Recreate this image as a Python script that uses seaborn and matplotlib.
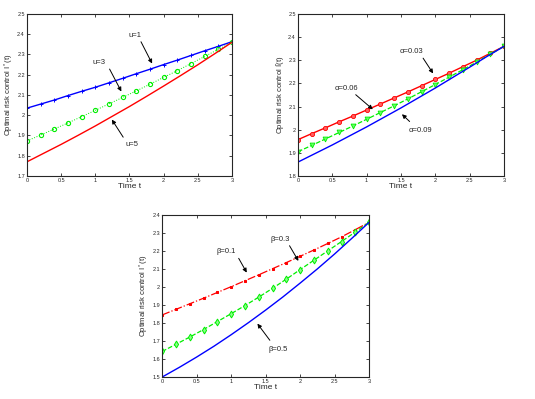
import matplotlib
matplotlib.use("Agg")
import matplotlib.pyplot as plt
import seaborn as sns
import numpy as np

# time grids
t_mark = [0, 0.2, 0.4, 0.6, 0.8, 1.0, 1.2, 1.4, 1.6, 1.8, 2.0, 2.2, 2.4, 2.6, 2.8, 3.0]
t_fine = [0, 0.25, 0.5, 0.75, 1.0, 1.25, 1.5, 1.75, 2.0, 2.25, 2.5, 2.75, 3.0]

# panel 1: u
u1 = [2.035, 2.055, 2.075, 2.097, 2.118, 2.138, 2.160, 2.182, 2.205, 2.227, 2.250, 2.272, 2.295, 2.318, 2.340, 2.363]
u3 = [1.873, 1.902, 1.932, 1.962, 1.993, 2.024, 2.056, 2.088, 2.120, 2.153, 2.187, 2.220, 2.255, 2.290, 2.325, 2.360]
u5 = [1.770, 1.813, 1.856, 1.901, 1.947, 1.995, 2.043, 2.093, 2.144, 2.196, 2.249, 2.304, 2.360]

# panel 2: alpha
a003 = [1.957, 1.983, 2.008, 2.034, 2.059, 2.085, 2.111, 2.137, 2.163, 2.190, 2.217, 2.244, 2.272, 2.300, 2.330, 2.360]
a006 = [1.905, 1.932, 1.960, 1.988, 2.016, 2.045, 2.074, 2.103, 2.133, 2.164, 2.195, 2.227, 2.259, 2.292, 2.326, 2.360]
a009 = [1.860, 1.897, 1.934, 1.973, 2.012, 2.053, 2.094, 2.137, 2.180, 2.225, 2.270, 2.316, 2.360]

# panel 3: beta
b01 = [1.845, 1.876, 1.907, 1.938, 1.970, 2.002, 2.035, 2.068, 2.102, 2.136, 2.171, 2.206, 2.242, 2.279, 2.319, 2.360]
b03 = [1.642, 1.682, 1.722, 1.764, 1.808, 1.852, 1.897, 1.944, 1.993, 2.044, 2.097, 2.149, 2.201, 2.253, 2.306, 2.360]
b05 = [1.500, 1.554, 1.611, 1.671, 1.735, 1.802, 1.872, 1.945, 2.022, 2.101, 2.184, 2.271, 2.360]

sns.set_style("ticks")
plt.rcParams['font.family'] = ['Liberation Sans', 'DejaVu Sans']
plt.rcParams['mathtext.fontset'] = 'custom'
plt.rcParams['mathtext.rm'] = 'Liberation Sans'
plt.rcParams['mathtext.it'] = 'Liberation Sans'

GREEN = '#00ee00'
fig = plt.figure(figsize=(5.35, 3.99), dpi=100)
ax1 = fig.add_axes([0.0505, 0.559, 0.383, 0.406])
ax2 = fig.add_axes([0.557, 0.559, 0.385, 0.406])
ax3 = fig.add_axes([0.303, 0.055, 0.387, 0.406])


def style(ax, ylim, yticks, ylabel):
    ax.set_xlim(0, 3)
    ax.set_ylim(*ylim)
    ax.set_xticks([0, 0.5, 1, 1.5, 2, 2.5, 3])
    ax.set_xticklabels(['0', '0.5', '1', '1.5', '2', '2.5', '3'])
    ax.set_yticks(yticks)
    ax.set_yticklabels([('%g' % v) for v in yticks])
    ax.tick_params(direction='in', length=2, width=0.6, labelsize=4, pad=1.5,
                   top=True, right=True)
    ax.set_xlabel('Time t', fontsize=6, labelpad=0)
    ax.set_ylabel(ylabel, fontsize=5.5, labelpad=1)
    for s in ax.spines.values():
        s.set_linewidth(0.8)
        s.set_visible(True)


def note(ax, text, xy, xytext, tail):
    ax.annotate('', xy=xy, xytext=tail,
                arrowprops=dict(arrowstyle='-|>', color='black', lw=0.7, mutation_scale=6))
    ax.text(xytext[0], xytext[1], text, fontsize=5.5, ha='center', va='center')


# panel 1
sns.lineplot(x=t_mark, y=u1, ax=ax1, color='blue', lw=1.0, marker='+', markersize=3,
             markeredgewidth=0.7, markeredgecolor='blue')
sns.lineplot(x=t_mark, y=u3, ax=ax1, color=GREEN, lw=0.7, linestyle=':', marker='o',
             markersize=3, markerfacecolor='none', markeredgecolor=GREEN, markeredgewidth=0.8)
sns.lineplot(x=t_fine, y=u5, ax=ax1, color='red', lw=1.0)
style(ax1, (1.7, 2.5), np.round(np.arange(1.7, 2.51, 0.1), 1), 'Optimal risk control I$^*$(t)')
note(ax1, 'u=1', (1.85, 2.243), (1.58, 2.396), (1.65, 2.375))
note(ax1, 'u=3', (1.40, 2.105), (1.06, 2.26), (1.19, 2.24))
note(ax1, 'u=5', (1.22, 1.99), (1.53, 1.853), (1.43, 1.88))

# panel 2
sns.lineplot(x=t_mark, y=a003, ax=ax2, color='red', lw=1.0, marker='o', markersize=3,
             markerfacecolor='#ff6060', markeredgecolor='red', markeredgewidth=0.6)
sns.lineplot(x=t_mark, y=a006, ax=ax2, color=GREEN, lw=0.9, linestyle='--', marker='v',
             markersize=3.5, markerfacecolor='#66ff66', markeredgecolor=GREEN, markeredgewidth=0.6)
sns.lineplot(x=t_fine, y=a009, ax=ax2, color='blue', lw=1.0)
style(ax2, (1.8, 2.5), np.round(np.arange(1.8, 2.51, 0.1), 1), 'Optimal risk control $\\hat{I}$(t)')
note(ax2, '\u03b1=0.03', (1.99, 2.233), (1.655, 2.338), (1.80, 2.319))
note(ax2, '\u03b1=0.06', (1.12, 2.08), (0.71, 2.18), (0.81, 2.159))
note(ax2, '\u03b1=0.09', (1.485, 2.075), (1.79, 1.998), (1.655, 2.027))

# panel 3
sns.lineplot(x=t_mark, y=b01, ax=ax3, color='red', lw=0.9, linestyle='-.', marker='s',
             markersize=1.8, markerfacecolor='red', markeredgecolor='red')
sns.lineplot(x=t_mark, y=b03, ax=ax3, color=GREEN, lw=0.9, linestyle='--', marker='d',
             markersize=3.5, markerfacecolor='#88ff88', markeredgecolor=GREEN, markeredgewidth=0.7)
sns.lineplot(x=t_fine, y=b05, ax=ax3, color='blue', lw=1.0)
style(ax3, (1.5, 2.4), np.round(np.arange(1.5, 2.41, 0.1), 1), 'Optimal risk control I$^*$(t)')
note(ax3, '\u03b2=0.1', (1.246, 2.067), (0.93, 2.197), (1.09, 2.173))
note(ax3, '\u03b2=0.3', (1.995, 2.132), (1.705, 2.265), (1.826, 2.243))
note(ax3, '\u03b2=0.5', (1.357, 1.809), (1.68, 1.655), (1.585, 1.692))

fig.savefig('out.png', dpi=100)
